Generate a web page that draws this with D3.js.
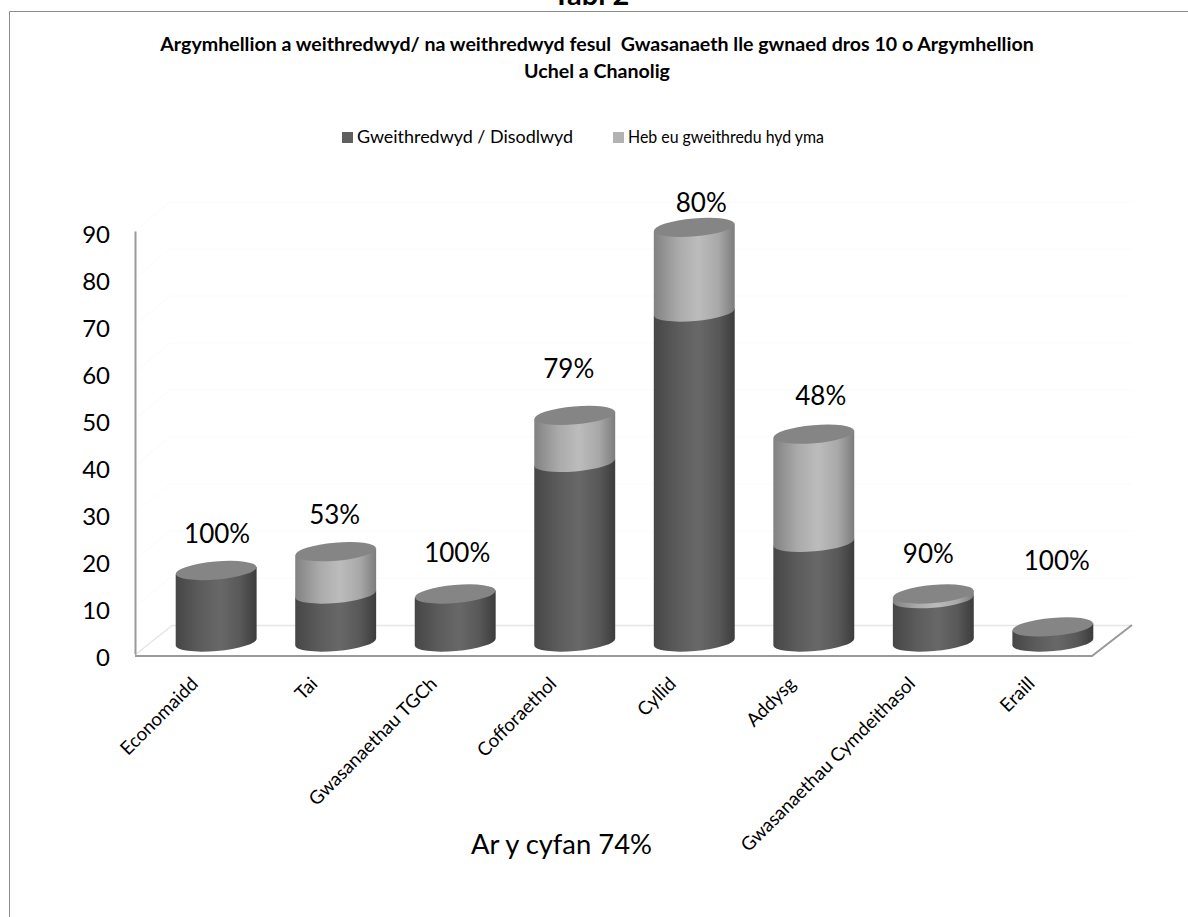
<!DOCTYPE html>
<html>
<head>
<meta charset="utf-8">
<script src="https://cdn.jsdelivr.net/npm/d3@7"></script>
<style>
  html, body { margin: 0; padding: 0; background: #fff; overflow: hidden; }
  svg { display: block; font-family: Lato, "Open Sans", sans-serif; fill: #000; }
</style>
</head>
<body>
<svg id="chart" width="1188" height="917"></svg>
<script>
var categories = ["Economaidd", "Tai", "Gwasanaethau TGCh", "Cofforaethol", "Cyllid", "Addysg", "Gwasanaethau Cymdeithasol", "Eraill"];
var implemented = [15, 10, 10, 38, 70, 21, 9, 3];
var outstanding = [0, 9, 0, 10, 18, 23, 1, 0];
var percentLabels = ["100%", "53%", "100%", "79%", "80%", "48%", "90%", "100%"];
var seriesNames = ["Gweithredwyd / Disodlwyd", "Heb eu gweithredu hyd yma"];
var yTicks = [0, 10, 20, 30, 40, 50, 60, 70, 80, 90];

//data labels were dragged around by hand in the original, nudge them from the bar top
var labelNudge = [[1, -38], [-1, -38], [2, -42], [-6, -47], [7, -25], [7, -39], [-5, -41], [4, -67]];

var svg = d3.select("#chart");

var x = d3.scaleBand().domain(categories).range([156.4, 1112.6]).paddingInner(0.323).paddingOuter(0.1615);
var y = d3.scaleLinear().domain([0, 90]).range([654, 231]);

//cylinders sit on the floor, a bit behind the front edge
var floorLift = 13;
var rx = x.bandwidth() / 2;
var ry = 9;
var tilt = -5;
var tiltDy = rx * Math.sin(-tilt * Math.PI / 180);

//horizontal gradients for the cylinder sides
var defs = svg.append("defs");
function sideGradient(id, stops) {
  defs.append("linearGradient").attr("id", id)
    .selectAll("stop").data(stops).enter().append("stop")
      .attr("offset", d => d[0])
      .attr("stop-color", d => d[1]);
}
sideGradient("darkSide", [[0, "#464646"], [0.3, "#5c5c5c"], [0.55, "#686868"], [0.8, "#585858"], [1, "#3c3c3c"]]);
sideGradient("lightSide", [[0, "#828282"], [0.3, "#aaaaaa"], [0.55, "#bcbcbc"], [0.8, "#a8a8a8"], [1, "#7c7c7c"]]);

//outer frame, open on the right and at the bottom
svg.append("path")
  .attr("d", "M9.5,917V11.5H1188")
  .attr("fill", "none").attr("stroke", "#8c8c8c").attr("stroke-width", 1);

svg.append("text").attr("x", 591).attr("y", 5).attr("text-anchor", "middle")
  .attr("font-size", 29).attr("font-weight", 700).text("Tabl 2");

var titleLines = ["Argymhellion a weithredwyd/ na weithredwyd fesul  Gwasanaeth lle gwnaed dros 10 o Argymhellion", "Uchel a Chanolig"];
svg.append("g").selectAll("text").data(titleLines).enter().append("text")
  .attr("x", 597).attr("y", (d, i) => 51 + i * 27)
  .attr("text-anchor", "middle").attr("font-size", 19.6).attr("font-weight", 700)
  .style("white-space", "pre")
  .text(d => d);

//legend
var legend = svg.append("g").selectAll("g").data(seriesNames).enter().append("g")
  .attr("transform", (d, i) => `translate(${[342, 613][i]},0)`);
legend.append("rect").attr("y", 132).attr("width", 11).attr("height", 11)
  .attr("fill", (d, i) => ["#5f5f5f", "#b2b2b2"][i]);
legend.append("text").attr("x", 15).attr("y", 143).attr("font-size", 17)
  .attr("textLength", (d, i) => [216, 196][i])
  .attr("lengthAdjust", "spacingAndGlyphs")
  .text(d => d);

//faint back wall gridlines
var grid = svg.append("g").attr("fill", "none").attr("stroke", "#fbfbfb");
grid.selectAll("path").data(yTicks.slice(1)).enter().append("path")
  .attr("d", d => `M135,${y(d)}L170,${y(d) - 29}H1132`);

//floor
svg.append("path").attr("d", "M135,655L172,625.5H1132")
  .attr("fill", "none").attr("stroke", "#e6e6e6").attr("stroke-width", 1.5);
svg.append("path").attr("d", "M135,656H1092L1132,625")
  .attr("fill", "none").attr("stroke", "#999").attr("stroke-width", 2);

//y axis
var yAxis = svg.append("g").attr("transform", "translate(135,0)")
  .call(d3.axisLeft(y).tickValues(yTicks).tickSize(0).tickPadding(25));
yAxis.select(".domain").attr("stroke", "#999").attr("stroke-width", 2);
yAxis.selectAll("text").attr("font-size", 24).attr("font-family", "Lato, 'Open Sans', sans-serif").attr("fill", "#000")
  .attr("dy", "0.47em");

function sidePath(cx, yBottom, yTop) {
  var l = cx - rx, r = cx + rx;
  return `M${l},${yBottom + tiltDy}A${rx},${ry} ${tilt} 0 0 ${r},${yBottom - tiltDy}` +
         `L${r},${yTop - tiltDy}L${l},${yTop + tiltDy}Z`;
}

var bars = svg.append("g").selectAll("g").data(categories).enter().append("g");

bars.append("path").attr("class", "done")
  .attr("d", (d, i) => sidePath(x(d) + rx, y(0) - floorLift + 1, y(implemented[i]) - floorLift))
  .attr("fill", "url(#darkSide)");

bars.filter((d, i) => outstanding[i] > 0).append("path").attr("class", "todo")
  .attr("d", d => {
    var i = categories.indexOf(d);
    return sidePath(x(d) + rx, y(implemented[i]) - floorLift, y(implemented[i] + outstanding[i]) - floorLift);
  })
  .attr("fill", "url(#lightSide)");

bars.append("ellipse")
  .attr("rx", rx).attr("ry", ry)
  .attr("transform", (d, i) => `translate(${x(d) + rx},${y(implemented[i] + outstanding[i]) - floorLift}) rotate(${tilt})`)
  .attr("fill", "#858585");

//percentage labels
svg.append("g").selectAll("text").data(categories).enter().append("text")
  .attr("x", (d, i) => x(d) + rx + labelNudge[i][0])
  .attr("y", (d, i) => y(implemented[i] + outstanding[i]) - floorLift + labelNudge[i][1] + 10)
  .attr("text-anchor", "middle").attr("font-size", 26)
  .text((d, i) => percentLabels[i]);

//rotated category labels
svg.append("g").selectAll("text").data(categories).enter().append("text")
  .attr("transform", d => `translate(${x(d) + rx - 17},${685}) rotate(-45)`)
  .attr("text-anchor", "end").attr("font-size", 18.7)
  .text(d => d);

svg.append("text").attr("x", 561.5).attr("y", 854).attr("text-anchor", "middle")
  .attr("font-size", 27.4).text("Ar y cyfan 74%");
</script>
</body>
</html>
